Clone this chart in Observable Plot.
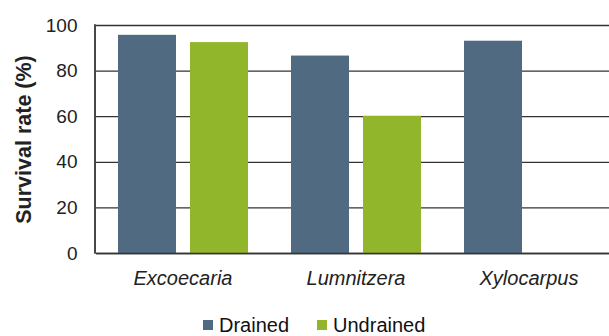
<!DOCTYPE html>
<html>
<head>
<meta charset="utf-8">
<script src="https://cdn.jsdelivr.net/npm/d3@7"></script>
<script src="https://cdn.jsdelivr.net/npm/@observablehq/plot@0.6"></script>
<style>
  html, body { margin: 0; padding: 0; background: #fff; overflow: hidden; }
  #chart { width: 609px; height: 336px; overflow: hidden; }
  #chart svg g[aria-label="fx-axis tick label"] text,
  #chart svg g[aria-label="fx-axis"] text { font-style: italic; font-size: 20px; }
  #chart svg g[aria-label="y-axis label"] text,
  #chart svg g[aria-label="y-axis"] > text { font-weight: bold; font-size: 21.5px; }
  #chart div[class*="-swatches"] span[class$="-swatch"] { margin-right: 28px; }
  #chart div[class*="-swatches"] span[class$="-swatch"] > svg { margin-right: 6px; }
</style>
</head>
<body>
<div id="chart"></div>
<script>
// Seedling survival by genus under drained and undrained conditions
const species = ["Excoecaria", "Lumnitzera", "Xylocarpus"];
const treatments = ["Drained", "Undrained"];
const drained = [95.7, 86.6, 93.1];
const undrained = [92.5, 60.2, null];
const yTicks = [0, 20, 40, 60, 80, 100];
const colors = ["#506a82", "#91b52b"];

const font = "'Liberation Sans', Arial, Helvetica, sans-serif";
const ink = "#333";
const marginLeft = 95;

const rows = species.flatMap((s, i) => [
  {species: s, treatment: treatments[0], value: drained[i]},
  {species: s, treatment: treatments[1], value: undrained[i]}
]).filter(d => d.value != null);

const chart = Plot.plot({
  width: 616,
  height: 300,
  marginLeft,
  marginRight: 0,
  marginTop: 25,
  marginBottom: 47,
  style: {fontFamily: font, fontSize: "19px", color: "#222", background: "#fff", maxWidth: "none", overflow: "visible"},
  fx: {domain: species, padding: 0, label: null, axis: "bottom", tickSize: 0, tickPadding: 17},
  x: {domain: treatments, axis: null, paddingInner: 0.198, paddingOuter: 0.3},
  y: {domain: [0, 100], ticks: yTicks, tickSize: 0, tickPadding: 19, label: "Survival rate (%)", labelAnchor: "center", labelArrow: "none", labelOffset: 81},
  color: {domain: treatments, range: colors},
  marks: [
    Plot.ruleY(yTicks, {stroke: ink, strokeWidth: 1.3}),
    Plot.barY(rows, {fx: "species", x: "treatment", y: "value", fill: "treatment"}),
    Plot.ruleY([0], {stroke: ink, strokeWidth: 1.6})
  ]
});

// Left axis line spanning the y scale's range
const svg = chart.tagName.toLowerCase() === "svg" ? chart : chart.querySelector("svg");
const yRange = chart.scale("y").range;
const axisLine = document.createElementNS("http://www.w3.org/2000/svg", "line");
axisLine.setAttribute("x1", marginLeft);
axisLine.setAttribute("x2", marginLeft);
axisLine.setAttribute("y1", yRange[0] + 0.8);
axisLine.setAttribute("y2", yRange[1] - 0.65);
axisLine.setAttribute("stroke", ink);
axisLine.setAttribute("stroke-width", 1.8);
svg.appendChild(axisLine);

const legend = Plot.legend({
  color: {domain: treatments, range: colors},
  legend: "swatches",
  swatchSize: 10,
  style: {fontFamily: font, fontSize: "20px", color: "#111", minHeight: "0", height: "20px", lineHeight: "20px", marginTop: "15px", marginBottom: "0", paddingLeft: "203px", justifyContent: "flex-start"}
});

document.getElementById("chart").append(chart, legend);
</script>
</body>
</html>
